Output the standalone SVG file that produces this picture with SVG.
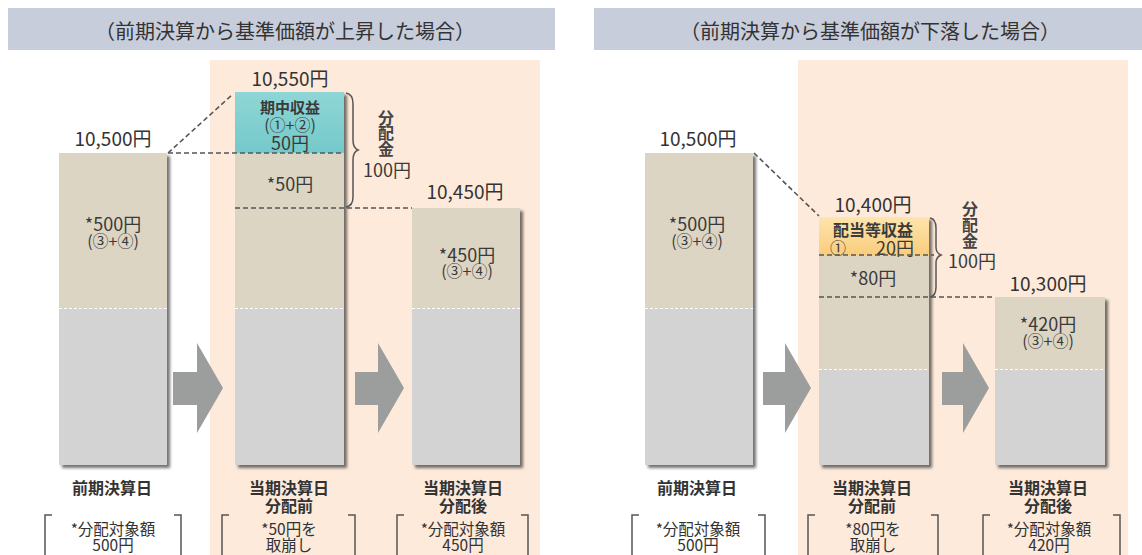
<svg xmlns="http://www.w3.org/2000/svg" width="1142" height="555" viewBox="0 0 1142 555">
<defs>
<style>
text{font-family:"Noto Sans CJK JP","Noto Sans",sans-serif;fill:#333;text-anchor:middle;dominant-baseline:central}
.hdr{fill:#c8cddb}
.hdrt{font-size:20px;fill:#333}
.peach{fill:#fdeadb}
.tan{fill:#ddd5c4}
.gray{fill:#d3d3d3}
.sep{stroke:#fff;stroke-width:1;stroke-dasharray:3 2;fill:none}
.dash{stroke:#555;stroke-width:1.6;stroke-dasharray:5 3;fill:none}
.arrow{fill:#9c9e9e}
.val{font-size:19px}
.lbl{font-size:16px;font-weight:bold}
.note{font-size:15.5px}
.in{font-size:18px;fill:#3a3a3a}
.par{font-size:16px;fill:#3a3a3a}
.inb{font-size:15px;font-weight:bold;fill:#3a3a3a}
.br{stroke:#555;stroke-width:1.5;fill:none}
.vt{font-size:16px;font-weight:bold;fill:#444}
</style>
<filter id="sh" x="-10%" y="-10%" width="130%" height="130%">
<feDropShadow dx="3" dy="3" stdDeviation="1.6" flood-color="#000" flood-opacity="0.55"/>
</filter>
<linearGradient id="teal" x1="0" y1="0" x2="0" y2="1"><stop offset="0" stop-color="#8fd6d6"/><stop offset="1" stop-color="#74c9ca"/></linearGradient>
<linearGradient id="orng" x1="0" y1="0" x2="0" y2="1"><stop offset="0" stop-color="#fde5ad"/><stop offset="1" stop-color="#f9cd7c"/></linearGradient>
</defs>
<rect width="1142" height="555" fill="#fff"/>

<g id="header-left"><rect class="hdr" x="8" y="8" width="547" height="42"/><text class="hdrt" x="285" y="30">（前期決算から基準価額が上昇した場合）</text></g>
<g id="header-right"><rect class="hdr" x="594" y="8" width="548" height="42"/><text class="hdrt" x="870" y="30">（前期決算から基準価額が下落した場合）</text></g>

<rect class="peach" x="210" y="60" width="330" height="495"/>
<rect class="peach" x="798" y="60" width="330" height="495"/>

<!-- LEFT PANEL -->
<g id="L-bar1">
<g filter="url(#sh)"><rect class="tan" x="59" y="153" width="108" height="155"/><rect class="gray" x="59" y="308" width="108" height="157"/></g>
<line class="sep" x1="59" y1="308.5" x2="167" y2="308.5"/>
<text class="val" x="113" y="137">10,500円</text>
<text class="in" x="113" y="223">*500円</text>
<text class="par" x="113" y="240">(③+④)</text>
<text class="lbl" x="112" y="487">前期決算日</text>
<path class="br" d="M52 515 H45 V555 M174 515 H181 V555"/>
<text class="note" x="113" y="528">*分配対象額</text>
<text class="note" x="113" y="544">500円</text>
</g>
<g id="L-bar2">
<g filter="url(#sh)"><rect fill="url(#teal)" x="235" y="92" width="109" height="61"/><rect class="tan" x="235" y="153" width="109" height="155"/><rect class="gray" x="235" y="308" width="109" height="157"/></g>
<line class="sep" x1="235" y1="308.5" x2="344" y2="308.5"/>
<text class="val" x="290" y="77">10,550円</text>
<text class="inb" x="290" y="106">期中収益</text>
<text class="par" x="290" y="124">(①+②)</text>
<text class="in" x="290" y="142">50円</text>
<text class="in" x="290" y="183">*50円</text>
<text class="lbl" x="289" y="487">当期決算日</text>
<text class="lbl" x="289" y="505">分配前</text>
<path class="br" d="M229 515 H222 V555 M348 515 H355 V555"/>
<text class="note" x="289" y="528">*50円を</text>
<text class="note" x="289" y="544">取崩し</text>
</g>
<g id="L-bar3">
<g filter="url(#sh)"><rect class="tan" x="412" y="208" width="108" height="100"/><rect class="gray" x="412" y="308" width="108" height="157"/></g>
<line class="sep" x1="412" y1="308.5" x2="520" y2="308.5"/>
<text class="val" x="465" y="190">10,450円</text>
<text class="in" x="467" y="254">*450円</text>
<text class="par" x="467" y="270">(③+④)</text>
<text class="lbl" x="463" y="487">当期決算日</text>
<text class="lbl" x="463" y="505">分配後</text>
<path class="br" d="M404 515 H397 V555 M521 515 H528 V555"/>
<text class="note" x="463" y="528">*分配対象額</text>
<text class="note" x="463" y="544">450円</text>
</g>
<g id="L-dist">
<path class="br" d="M346 93 Q353 94 353 104 L353 140 Q353 148 358 150 Q353 152 353 160 L353 197 Q353 206 346 207"/>
<text class="vt" x="386" y="117">分</text>
<text class="vt" x="386" y="132">配</text>
<text class="vt" x="386" y="148">金</text>
<text class="in" x="387" y="169">100円</text>
</g>

<!-- RIGHT PANEL -->
<g id="R-bar1">
<g filter="url(#sh)"><rect class="tan" x="645" y="153" width="108" height="155"/><rect class="gray" x="645" y="308" width="108" height="157"/></g>
<line class="sep" x1="645" y1="308.5" x2="753" y2="308.5"/>
<text class="val" x="698" y="137">10,500円</text>
<text class="in" x="697" y="223">*500円</text>
<text class="par" x="697" y="240">(③+④)</text>
<text class="lbl" x="697" y="487">前期決算日</text>
<path class="br" d="M639 515 H632 V555 M758 515 H765 V555"/>
<text class="note" x="698" y="528">*分配対象額</text>
<text class="note" x="698" y="544">500円</text>
</g>
<g id="R-bar2">
<g filter="url(#sh)"><rect fill="url(#orng)" x="819" y="217" width="110" height="38"/><rect class="tan" x="819" y="255" width="110" height="114"/><rect class="gray" x="819" y="369" width="110" height="96"/></g>
<line class="sep" x1="819" y1="369.5" x2="929" y2="369.5"/>
<text class="val" x="873" y="203">10,400円</text>
<text class="in" x="873" y="229" style="font-weight:bold;font-size:16px">配当等収益</text>
<text class="par" x="838" y="247">①</text>
<text class="in" x="895" y="247">20円</text>
<text class="in" x="873" y="277">*80円</text>
<text class="lbl" x="872" y="487">当期決算日</text>
<text class="lbl" x="872" y="505">分配前</text>
<path class="br" d="M815 515 H808 V555 M931 515 H938 V555"/>
<text class="note" x="873" y="528">*80円を</text>
<text class="note" x="873" y="544">取崩し</text>
</g>
<g id="R-bar3">
<g filter="url(#sh)"><rect class="tan" x="995" y="297" width="110" height="72"/><rect class="gray" x="995" y="369" width="110" height="96"/></g>
<line class="sep" x1="995" y1="369.5" x2="1105" y2="369.5"/>
<text class="val" x="1048" y="282">10,300円</text>
<text class="in" x="1048" y="323">*420円</text>
<text class="par" x="1048" y="340">(③+④)</text>
<text class="lbl" x="1048" y="487">当期決算日</text>
<text class="lbl" x="1048" y="505">分配後</text>
<path class="br" d="M990 515 H983 V555 M1113 515 H1120 V555"/>
<text class="note" x="1049" y="528">*分配対象額</text>
<text class="note" x="1049" y="544">420円</text>
</g>
<g id="R-dist">
<path class="br" d="M930 218 Q936 219 936 228 L936 247 Q936 253 941 255 Q936 257 936 263 L936 287 Q936 296 930 297"/>
<text class="vt" x="970" y="208">分</text>
<text class="vt" x="970" y="224">配</text>
<text class="vt" x="970" y="240">金</text>
<text class="in" x="972" y="260">100円</text>
</g>

<g id="connectors">
<path class="dash" d="M168 153 L233 94"/>
<line class="dash" x1="168" y1="153" x2="344" y2="153"/>
<line class="dash" x1="235" y1="208" x2="412" y2="208"/>
<path class="dash" d="M754 153 L819 216"/>
<line class="dash" x1="819" y1="255" x2="934" y2="255"/>
<line class="dash" x1="819" y1="297" x2="995" y2="297"/>
<polygon class="arrow" points="173,372 197,372 197,343 223,388 197,433 197,405 173,405"/>
<polygon class="arrow" points="355,372 378,372 378,343 404,388 378,433 378,405 355,405"/>
<polygon class="arrow" points="763,372 785,372 785,343 811,388 785,433 785,405 763,405"/>
<polygon class="arrow" points="942,372 963,372 963,343 989,388 963,433 963,405 942,405"/>
</g>
</svg>
